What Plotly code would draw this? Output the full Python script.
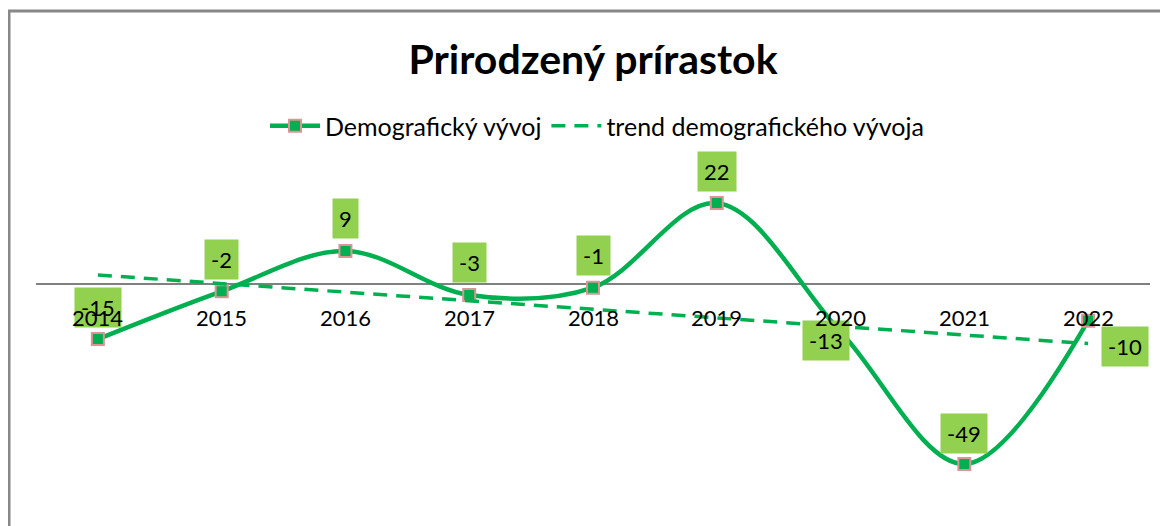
import numpy as np
import plotly.graph_objects as go

years = ["2014", "2015", "2016", "2017", "2018", "2019", "2020", "2021", "2022"]
values = [-15, -2, 9, -3, -1, 22, -13, -49, -10]
# label offsets (pixels) relative to each point
label_dx = [0, 0, 0, 0, 0, 0, -15, 0, 37]
label_dy = [32, 32, 32, 32, 32, 32, -9, 31, -26]

idx = np.arange(len(years))
slope, intercept = np.polyfit(idx, values, 1)
trend = slope * idx + intercept

GREEN = "#00B050"
LABEL_BG = "#92D050"
FONT = "Lato"

fig = go.Figure()
fig.add_trace(go.Scatter(
    x=idx, y=values, mode="lines+markers", name="Demografický vývoj",
    line=dict(color=GREEN, width=4.5, shape="spline", smoothing=1.0),
    marker=dict(symbol="square", size=12, color=GREEN,
                line=dict(color="#D99694", width=2)),
))
fig.add_trace(go.Scatter(
    x=idx, y=trend, mode="lines", name="trend demografického vývoja",
    line=dict(color=GREEN, width=3.5, dash="14px,9px"),
))

annotations = []
for i, (v, dx, dy) in enumerate(zip(values, label_dx, label_dy)):
    annotations.append(dict(x=i, y=v, xref="x", yref="y", text=str(v), showarrow=False,
                            xshift=dx, yshift=dy, bgcolor=LABEL_BG, borderpad=6,
                            font=dict(family=FONT, size=22, color="black")))
for i, y in enumerate(years):
    annotations.append(dict(x=i, y=0, xref="x", yref="y", text=y, showarrow=False,
                            yanchor="middle", yshift=-34,
                            font=dict(family=FONT, size=22, color="black")))

W, H = 1168, 526
OFF = 8  # page body margin
ml, mr, mt, mb = 36 - OFF, 1168 - (1150 - OFF), 150 - OFF, 526 - (510 - OFF)
pw, ph = W - ml - mr, H - mt - mb
def px(p):
    return (p - OFF - ml) / pw
def py(p):
    return (H - mb - (p - OFF)) / ph

shapes = [
    dict(type="rect", xref="paper", yref="paper", x0=px(9), x1=px(1200), y0=py(560), y1=py(11),
         line=dict(color="#888888", width=3), fillcolor="rgba(0,0,0,0)", layer="below"),
]

fig.update_layout(
    width=W, height=H,
    margin=dict(l=ml, r=mr, t=mt, b=mb, autoexpand=False),
    paper_bgcolor="white", plot_bgcolor="white",
    title=dict(text="<b>Prirodzený prírastok</b>", x=px(593), xref="paper", xanchor="center",
               y=1 - (60 - OFF) / H, yanchor="middle",
               font=dict(family=FONT, size=41, color="black")),
    showlegend=True,
    legend=dict(orientation="h", x=px(597), xanchor="center", y=py(126), yanchor="middle",
                font=dict(family=FONT, size=25, color="black"), itemwidth=50,
                bgcolor="rgba(0,0,0,0)"),
    xaxis=dict(range=[-0.5, len(years) - 0.5], showticklabels=False,
               showgrid=False, zeroline=False, showline=False, ticks=""),
    yaxis=dict(range=[-61.5, 36.45], showticklabels=False, showgrid=False,
               zeroline=True, zerolinecolor="#808080", zerolinewidth=2, showline=False),
    annotations=annotations,
    shapes=shapes,
)

fig.write_html("out.html")
